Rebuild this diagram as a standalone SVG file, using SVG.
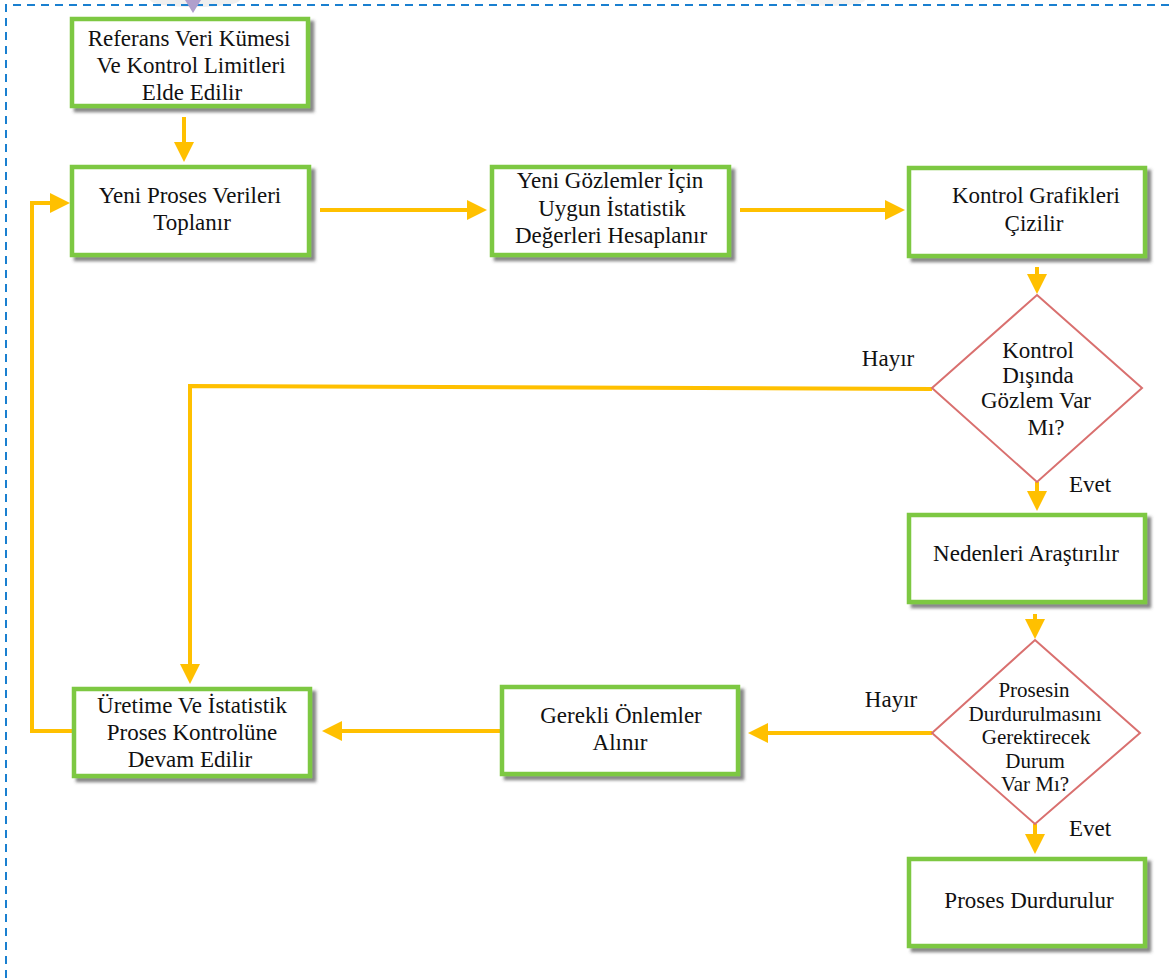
<svg xmlns="http://www.w3.org/2000/svg" width="1175" height="978" viewBox="0 0 1175 978">
  <style>
    .box { fill: #ffffff; stroke: #7dc842; stroke-width: 4.5; filter: url(#shadow); }
    .dia { fill: #ffffff; stroke: #d9706f; stroke-width: 2; }
    .lbl { font-family: "Liberation Serif", "Times New Roman", serif; font-size: 23px; fill: #111111; text-anchor: middle; }
    .small { font-size: 21px; }
    .edge { fill: none; stroke: #ffc000; stroke-width: 4; marker-end: url(#arrow); }
    .frame { fill: none; stroke: #1a80d0; stroke-width: 2; stroke-dasharray: 8 6; }
  </style>
  <defs>
    <filter id="shadow" x="-10%" y="-10%" width="130%" height="140%">
      <feDropShadow dx="4" dy="4" stdDeviation="1.8" flood-color="#444444" flood-opacity="0.65"/>
    </filter>
    <marker id="arrow" markerUnits="userSpaceOnUse" markerWidth="20" markerHeight="20" refX="16" refY="10" orient="auto">
      <path d="M0,0 L20,10 L0,20 Z" fill="#ffc000"/>
    </marker>
  </defs>

  <rect width="1175" height="978" fill="#ffffff"/>

  <!-- faint marks along the top edge -->
  <ellipse cx="195" cy="0" rx="45" ry="7" fill="#efefef"/>
  <ellipse cx="830" cy="0" rx="35" ry="6" fill="#f2f2f2"/>

  <!-- dashed frame -->
  <path class="frame" d="M6,978 V5 H1170"/>
  <polygon points="185,0 201,0 193,13" fill="#b09fcc"/>

  <!-- connectors -->
  <g id="connectors">
    <path class="edge" d="M184,117 V158"/>
    <path class="edge" d="M320,210 H483"/>
    <path class="edge" d="M740,210 H901"/>
    <path class="edge" d="M1037,267 V290"/>
    <path class="edge" d="M932,389 L190,386 V680"/>
    <path class="edge" d="M1037,482 V507"/>
    <path class="edge" d="M1035,614 V635"/>
    <path class="edge" d="M932,733 H752"/>
    <path class="edge" d="M500,731 H326"/>
    <path class="edge" d="M1035,824 V850"/>
    <path class="edge" d="M72,731 H32 V203 H66"/>
  </g>

  <!-- nodes -->
  <g id="referans">
    <rect class="box" x="72" y="19" width="236" height="87"/>
    <text class="lbl"><tspan x="189" y="46">Referans Veri Kümesi</tspan><tspan x="191" y="73">Ve Kontrol Limitleri</tspan><tspan x="192" y="100">Elde Edilir</tspan></text>
  </g>
  <g id="yeni-proses">
    <rect class="box" x="72" y="167" width="237" height="88"/>
    <text class="lbl"><tspan x="190" y="203">Yeni Proses Verileri</tspan><tspan x="192" y="230">Toplanır</tspan></text>
  </g>
  <g id="yeni-gozlemler">
    <rect class="box" x="492" y="167" width="237" height="88"/>
    <text class="lbl"><tspan x="610" y="188">Yeni Gözlemler İçin</tspan><tspan x="612" y="216">Uygun İstatistik</tspan><tspan x="611" y="243">Değerleri Hesaplanır</tspan></text>
  </g>
  <g id="kontrol-grafikleri">
    <rect class="box" x="909" y="168" width="236" height="88"/>
    <text class="lbl"><tspan x="1036" y="203">Kontrol Grafikleri</tspan><tspan x="1034" y="231">Çizilir</tspan></text>
  </g>
  <g id="karar-kontrol">
    <polygon class="dia" points="1037,295 1142,388 1037,482 932,388"/>
    <text class="lbl"><tspan x="1038" y="358">Kontrol</tspan><tspan x="1038" y="383">Dışında</tspan><tspan x="1036" y="408">Gözlem Var</tspan><tspan x="1046" y="435">Mı?</tspan></text>
    <text class="lbl" x="888" y="366">Hayır</text>
    <text class="lbl" x="1090" y="492">Evet</text>
  </g>
  <g id="nedenleri">
    <rect class="box" x="909" y="515" width="236" height="87"/>
    <text class="lbl" x="1026" y="561">Nedenleri Araştırılır</text>
  </g>
  <g id="karar-durdurma">
    <polygon class="dia" points="1035,640 1140,733 1035,824 932,733"/>
    <text class="lbl small"><tspan x="1034" y="697">Prosesin</tspan><tspan x="1035" y="720.5">Durdurulmasını</tspan><tspan x="1036" y="744">Gerektirecek</tspan><tspan x="1035" y="767.5">Durum</tspan><tspan x="1035" y="791">Var Mı?</tspan></text>
    <text class="lbl" x="891" y="707">Hayır</text>
    <text class="lbl" x="1090" y="836">Evet</text>
  </g>
  <g id="proses-durdurulur">
    <rect class="box" x="909" y="859" width="236" height="87"/>
    <text class="lbl" x="1029" y="908">Proses Durdurulur</text>
  </g>
  <g id="gerekli-onlemler">
    <rect class="box" x="502" y="687" width="236" height="87"/>
    <text class="lbl"><tspan x="621" y="723">Gerekli Önlemler</tspan><tspan x="620" y="750">Alınır</tspan></text>
  </g>
  <g id="uretime-devam">
    <rect class="box" x="74" y="689" width="236" height="87"/>
    <text class="lbl"><tspan x="192" y="713">Üretime Ve İstatistik</tspan><tspan x="192" y="740">Proses Kontrolüne</tspan><tspan x="190" y="767">Devam Edilir</tspan></text>
  </g>
</svg>
